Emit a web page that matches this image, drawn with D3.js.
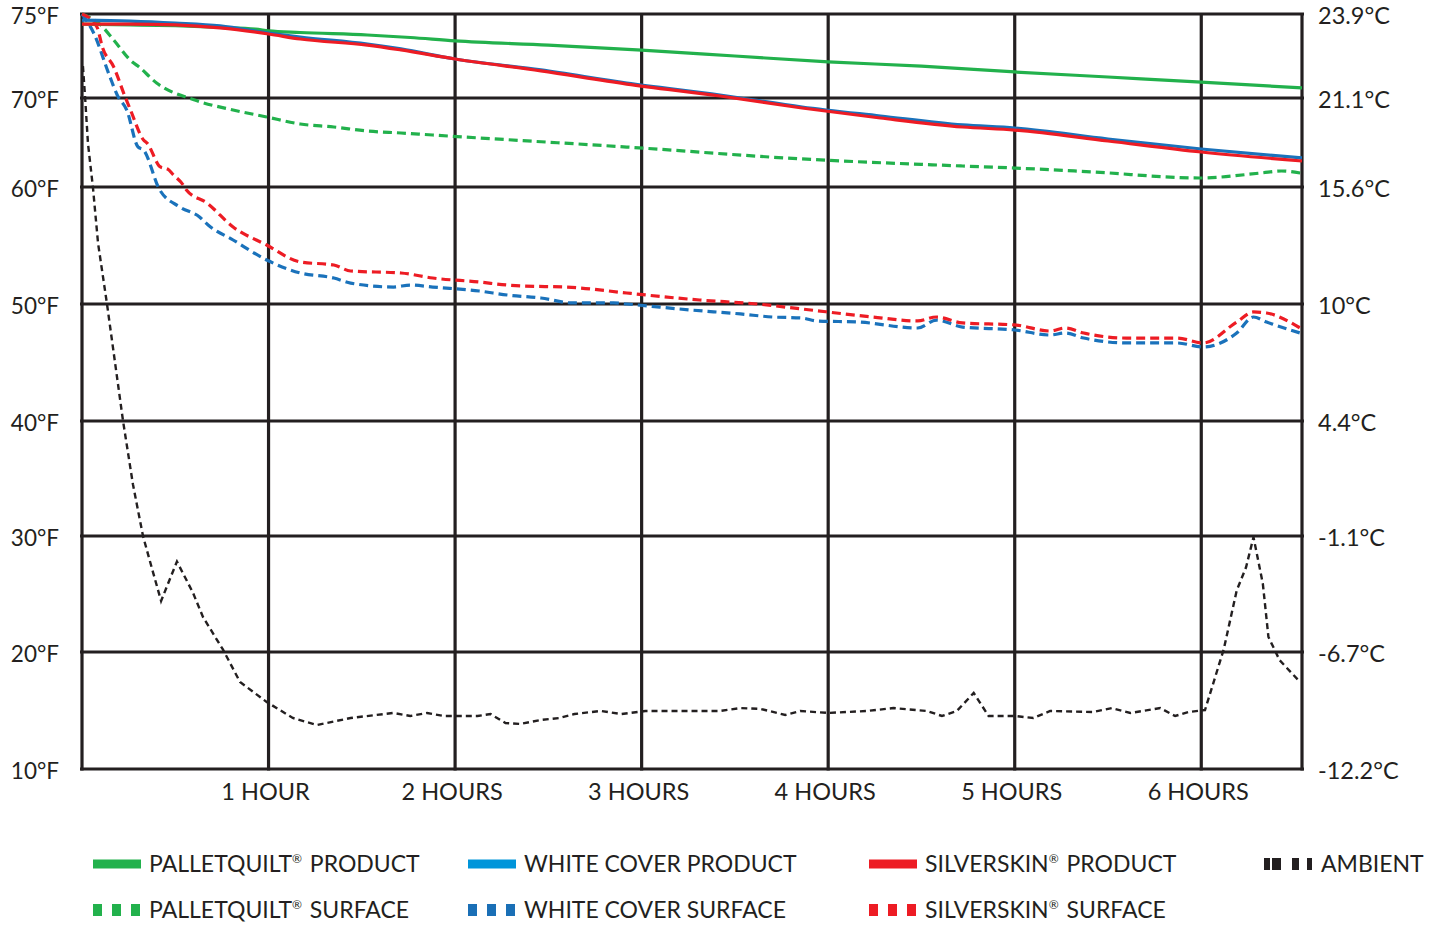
<!DOCTYPE html>
<html>
<head>
<meta charset="utf-8">
<script src="https://cdn.jsdelivr.net/npm/d3@7"></script>
<style>
html, body { margin: 0; padding: 0; background: #fff; }
svg text { font-family: Lato, "Open Sans", sans-serif; fill: #231f20; }
</style>
</head>
<body>
<svg id="chart" width="1434" height="926"></svg>
<script>
// axis ticks
let fTicks = [75, 70, 60, 50, 40, 30, 20, 10];
let fLabels = ["75°F", "70°F", "60°F", "50°F", "40°F", "30°F", "20°F", "10°F"];
let cLabels = ["23.9°C", "21.1°C", "15.6°C", "10°C", "4.4°C", "-1.1°C", "-6.7°C", "-12.2°C"];
let hourTicks = [1, 2, 3, 4, 5, 6];
let hourLabels = ["1 HOUR", "2 HOURS", "3 HOURS", "4 HOURS", "5 HOURS", "6 HOURS"];
let endHours = 6.54;

// [hours, °F]
let pqProduct = [[0,74.4],[0.26,74.35],[0.5,74.3],[0.74,74.2],[0.93,74.1],[1.0,74.0],[1.17,73.9],
    [1.53,73.75],[1.76,73.6],[2.0,73.4],[2.5,73.15],[3.0,72.85],[3.5,72.5],[4.0,72.15],[4.5,71.9],
    [5.0,71.55],[5.5,71.25],[6.0,70.95],[6.54,70.6]];
let wcProduct = [[0,74.64],[0.26,74.58],[0.5,74.46],[0.74,74.29],[1.0,73.87],[1.17,73.63],[1.53,73.21],
    [1.71,72.92],[2.0,72.32],[2.46,71.67],[2.92,70.89],[3.42,70.18],[3.86,68.99],[4.28,67.98],
    [4.72,66.97],[5.0,66.63],[5.5,65.39],[6.0,64.27],[6.54,63.26]];
let ssProduct = [[0,74.4],[0.26,74.4],[0.5,74.35],[0.74,74.17],[1.0,73.81],[1.17,73.51],[1.53,73.15],
    [1.71,72.86],[2.0,72.32],[2.46,71.61],[2.92,70.83],[3.42,70.12],[3.86,68.88],[4.28,67.75],
    [4.72,66.74],[5.0,66.4],[5.5,65.17],[6.0,63.93],[6.54,62.92]];
let pqSurface = [[0,75],[0.1,74.35],[0.17,73.45],[0.27,72.14],[0.3,71.9],[0.4,70.89],[0.6,69.8],
    [0.81,68.65],[0.99,67.87],[1.17,67.08],[1.35,66.74],[1.53,66.29],[1.71,66.07],[1.88,65.84],
    [2.13,65.51],[2.92,64.49],[3.86,63.15],[4.72,62.36],[5.0,62.13],[5.42,61.69],[5.99,61.01],
    [6.32,61.57],[6.43,61.8],[6.53,61.57]];
let wcSurface = [[0,75],[0.06,73.93],[0.15,71.25],[0.19,70.15],[0.24,68.65],[0.3,64.5],[0.33,64.16],
    [0.415,59.8],[0.525,58.29],[0.63,57.44],[0.676,56.75],[0.81,55.47],[0.99,53.76],[1.17,52.65],
    [1.35,52.22],[1.44,51.79],[1.67,51.45],[1.76,51.62],[1.88,51.45],[2.13,51.11],[2.28,50.77],
    [2.46,50.51],[2.63,50.09],[2.85,50.09],[2.92,50.0],[3.26,49.49],[3.53,49.15],[3.7,48.89],
    [3.86,48.8],[3.94,48.55],[4.16,48.46],[4.48,47.95],[4.58,48.63],[4.72,48.03],[5.0,47.78],
    [5.19,47.35],[5.27,47.52],[5.37,47.09],[5.6,46.67],[5.87,46.67],[6.01,46.32],[6.19,47.52],
    [6.28,48.89],[6.35,48.46],[6.53,47.52]];
let ssSurface = [[0,75],[0.08,74.23],[0.11,73.0],[0.17,71.85],[0.23,70.1],[0.26,68.65],[0.33,65.28],
    [0.35,64.9],[0.42,62.25],[0.46,62.0],[0.49,61.35],[0.54,60.3],[0.56,59.74],[0.67,58.63],
    [0.81,56.58],[0.99,55.04],[1.17,53.59],[1.35,53.33],[1.44,52.82],[1.71,52.65],[1.88,52.22],
    [2.13,51.88],[2.28,51.62],[2.67,51.37],[2.92,50.94],[3.31,50.34],[3.62,50.0],[3.86,49.57],
    [4.24,48.89],[4.48,48.55],[4.58,48.89],[4.72,48.38],[5.0,48.21],[5.19,47.69],[5.27,47.95],
    [5.37,47.52],[5.6,47.09],[5.87,47.09],[6.01,46.67],[6.19,48.46],[6.28,49.32],[6.35,49.23],
    [6.53,47.95]];
let ambient = [[0.005,71.9],[0.016,70.15],[0.032,64.9],[0.059,59.9],[0.086,55.2],[0.134,50.0],
    [0.177,45.0],[0.22,40.0],[0.273,34.5],[0.327,30.0],[0.375,27.2],[0.424,24.4],[0.509,27.8],
    [0.595,25.1],[0.649,23.0],[0.756,20.2],[0.847,17.44],[0.99,15.73],[1.13,14.36],[1.26,13.76],
    [1.44,14.36],[1.67,14.79],[1.76,14.53],[1.85,14.79],[1.94,14.53],[2.12,14.53],[2.19,14.7],
    [2.27,13.93],[2.35,13.85],[2.46,14.19],[2.56,14.36],[2.64,14.7],[2.78,14.96],[2.89,14.7],
    [3.02,14.96],[3.31,14.96],[3.42,14.96],[3.53,15.21],[3.64,15.13],[3.77,14.62],[3.85,14.96],
    [4.0,14.79],[4.21,14.96],[4.35,15.21],[4.53,14.96],[4.61,14.53],[4.69,14.96],[4.78,16.5],
    [4.86,14.53],[5.0,14.53],[5.1,14.36],[5.19,14.96],[5.42,14.87],[5.52,15.21],[5.62,14.79],
    [5.78,15.21],[5.86,14.53],[5.93,14.87],[6.02,15.04],[6.12,20.2],[6.19,25.3],[6.24,27.3],
    [6.28,29.9],[6.33,25.9],[6.36,21.3],[6.42,19.3],[6.52,17.6]];

let ink = "#231f20";

// draw order: surfaces, products, ambient on top
let series = [
    {name: "PALLETQUILT® SURFACE", data: pqSurface, color: "#22b14c", key: "#22b14c", dash: true},
    {name: "WHITE COVER SURFACE", data: wcSurface, color: "#1a72bb", key: "#1a6fb6", dash: true},
    {name: "SILVERSKIN® SURFACE", data: ssSurface, color: "#ed1c24", key: "#ed1c24", dash: true},
    {name: "PALLETQUILT® PRODUCT", data: pqProduct, color: "#22b14c", key: "#22b14c", dash: false},
    {name: "WHITE COVER PRODUCT", data: wcProduct, color: "#1a72bb", key: "#0095da", dash: false},
    {name: "SILVERSKIN® PRODUCT", data: ssProduct, color: "#ed1c24", key: "#ed1c24", dash: false},
    {name: "AMBIENT", data: ambient, color: ink, key: ink, dash: true, thin: true}
];

// legend layout (row, column)
let legendOrder = [
    ["PALLETQUILT® PRODUCT", 0, 0], ["WHITE COVER PRODUCT", 0, 1], ["SILVERSKIN® PRODUCT", 0, 2], ["AMBIENT", 0, 3],
    ["PALLETQUILT® SURFACE", 1, 0], ["WHITE COVER SURFACE", 1, 1], ["SILVERSKIN® SURFACE", 1, 2]
];

let svg = d3.select("#chart");
let plotLeft = 82, plotRight = 1302, plotTop = 14, plotBottom = 769;

let x = d3.scaleLinear().domain([0, endHours]).range([plotLeft, plotRight]);
// the picture uses uneven spacing between degree ticks
let y = d3.scaleLinear()
    .domain([10, 20, 30, 40, 50, 60, 70, 75])
    .range([769, 652, 536, 421, 304, 187, 98, 14]);

// grid
let grid = svg.append("g").attr("stroke", ink).attr("stroke-width", 3.2);
grid.selectAll("line.h")
    .data(fTicks)
    .join("line")
    .attr("class", "h")
    .attr("x1", plotLeft - 2).attr("x2", plotRight + 2)
    .attr("y1", d => y(d)).attr("y2", d => y(d));
grid.selectAll("line.v")
    .data([0].concat(hourTicks).concat([endHours]))
    .join("line")
    .attr("class", "v")
    .attr("x1", d => x(d)).attr("x2", d => x(d))
    .attr("y1", plotTop).attr("y2", plotBottom + 1.5);

// axis labels
svg.append("g").selectAll("text")
    .data(fTicks)
    .join("text")
    .attr("x", 59).attr("y", d => y(d) + 1.5)
    .attr("dy", "0.36em")
    .attr("text-anchor", "end")
    .attr("font-size", 22.5)
    .text((d, i) => fLabels[i]);

svg.append("g").selectAll("text")
    .data(fTicks)
    .join("text")
    .attr("x", 1318).attr("y", d => y(d) + 1.5)
    .attr("dy", "0.36em")
    .attr("font-size", 23.5)
    .text((d, i) => cLabels[i]);

svg.append("g").selectAll("text")
    .data(hourTicks)
    .join("text")
    .attr("x", d => x(d) - 3).attr("y", 792)
    .attr("dy", "0.36em")
    .attr("text-anchor", "middle")
    .attr("font-size", 23.5)
    .text((d, i) => hourLabels[i]);

// lines
let line = d3.line()
    .x(d => x(d[0]))
    .y(d => y(d[1]));

svg.append("g").attr("fill", "none")
    .selectAll("path")
    .data(series)
    .join("path")
    .attr("d", d => line.curve(d.thin ? d3.curveLinear : d3.curveMonotoneX)(d.data))
    .attr("stroke", d => d.color)
    .attr("stroke-width", d => d.thin ? 2.4 : 3.2)
    .attr("stroke-dasharray", d => d.thin ? "6,4" : (d.dash ? "9,5" : null));

// legend
let colX = [93, 468, 869, 1264];
let rowY = [864, 910];
let legend = svg.append("g").selectAll("g")
    .data(legendOrder)
    .join("g")
    .attr("transform", d => `translate(${colX[d[2]]},${rowY[d[1]]})`);

legend.each(function(d) {
    let s = series.find(e => e.name === d[0]);
    let g = d3.select(this);
    if (!s.dash) {
        g.append("rect").attr("x", 0).attr("y", -4.5).attr("width", 48).attr("height", 9).attr("fill", s.key);
    } else {
        let w = s.thin ? [6, 9, 7, 5] : [9, 9, 9];
        let gaps = s.thin ? [2, 11, 8] : [10, 10];
        let pos = 0;
        w.forEach((ww, i) => {
            g.append("rect").attr("x", pos).attr("y", -6).attr("width", ww).attr("height", 12).attr("fill", s.key);
            pos += ww + (gaps[i] || 0);
        });
    }
    let t = g.append("text")
        .attr("x", s.thin ? 57 : 56).attr("y", 0)
        .attr("dy", "0.36em")
        .attr("font-size", 23);
    let parts = d[0].split("®");
    t.append("tspan").text(parts[0]);
    if (parts.length > 1) {
        t.append("tspan").attr("font-size", 12).attr("dy", -9).text("®");
        t.append("tspan").attr("dy", 9).attr("dx", 2).text(" " + parts[1].trim());
    }
});
</script>
</body>
</html>
